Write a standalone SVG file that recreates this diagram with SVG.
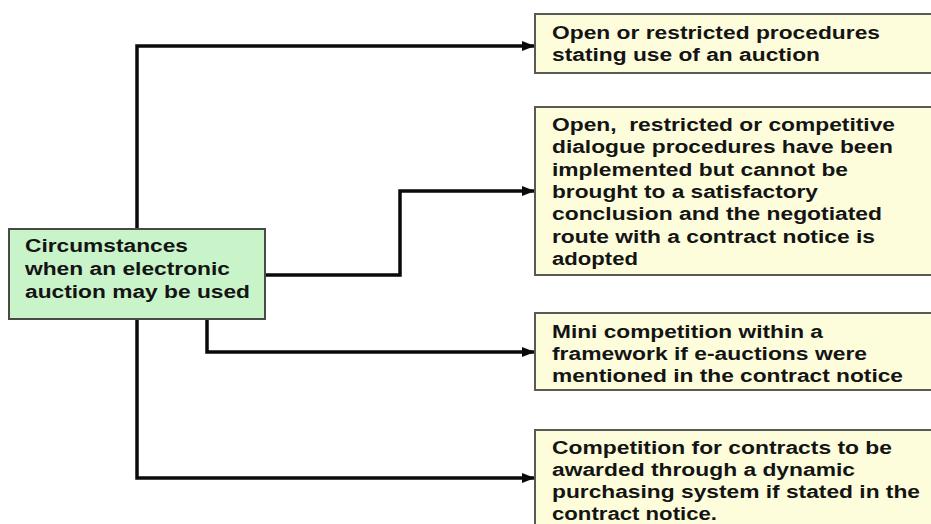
<svg xmlns="http://www.w3.org/2000/svg" width="931" height="524" viewBox="0 0 931 524">
<style>
.box{fill:#fdfddc;stroke:#5a5a52;stroke-width:2}
.src{fill:#c9f3c9;stroke:#4a4a44;stroke-width:2}
.shadow{fill:#b8b8b0;opacity:0.5}
.t{font-family:"Liberation Sans",Arial,sans-serif;font-weight:bold;font-size:18px;fill:#141414}
.conn{fill:none;stroke:#0a0a0a;stroke-width:3.5;stroke-linejoin:miter}
</style>
<defs>
<marker id="arr" markerUnits="userSpaceOnUse" markerWidth="14" markerHeight="12" refX="13" refY="6" orient="auto">
<path d="M0,1 L13,6 L0,11 Z" fill="#0a0a0a"/>
</marker>
</defs>
<rect width="931" height="524" fill="#ffffff"/>
<g id="connectors">
<path class="conn" d="M137,229 V46 H535" marker-end="url(#arr)"/>
<path class="conn" d="M265,275 H400 V191 H535" marker-end="url(#arr)"/>
<path class="conn" d="M207,319 V352 H535" marker-end="url(#arr)"/>
<path class="conn" d="M137,319 V478 H535" marker-end="url(#arr)"/>
</g>
<g id="source">
<rect class="src" x="9" y="229" width="256" height="90"/>
<text class="t" x="25" y="252" textLength="163" lengthAdjust="spacingAndGlyphs">Circumstances</text>
<text class="t" x="25" y="275" textLength="205" lengthAdjust="spacingAndGlyphs">when an electronic</text>
<text class="t" x="25" y="298" textLength="225" lengthAdjust="spacingAndGlyphs">auction may be used</text>
</g>
<g id="box1">
<rect class="box" x="535" y="14" width="410" height="59"/>
<text class="t" x="552" y="39" textLength="328" lengthAdjust="spacingAndGlyphs">Open or restricted procedures</text>
<text class="t" x="552" y="61" textLength="268" lengthAdjust="spacingAndGlyphs">stating use of an auction</text>
</g>
<g id="box2">
<rect class="box" x="535" y="107" width="410" height="168"/>
<text class="t" x="552" y="131" textLength="343" lengthAdjust="spacingAndGlyphs" xml:space="preserve">Open,  restricted or competitive</text>
<text class="t" x="552" y="153" textLength="341" lengthAdjust="spacingAndGlyphs">dialogue procedures have been</text>
<text class="t" x="552" y="176" textLength="296" lengthAdjust="spacingAndGlyphs">implemented but cannot be</text>
<text class="t" x="552" y="198" textLength="266" lengthAdjust="spacingAndGlyphs">brought to a satisfactory</text>
<text class="t" x="552" y="220" textLength="330" lengthAdjust="spacingAndGlyphs">conclusion and the negotiated</text>
<text class="t" x="552" y="243" textLength="323" lengthAdjust="spacingAndGlyphs">route with a contract notice is</text>
<text class="t" x="552" y="265" textLength="86" lengthAdjust="spacingAndGlyphs">adopted</text>
</g>
<g id="box3">
<rect class="box" x="535" y="313" width="410" height="77"/>
<text class="t" x="552" y="338" textLength="271" lengthAdjust="spacingAndGlyphs">Mini competition within a</text>
<text class="t" x="552" y="360" textLength="315" lengthAdjust="spacingAndGlyphs">framework if e-auctions were</text>
<text class="t" x="552" y="382" textLength="351" lengthAdjust="spacingAndGlyphs">mentioned in the contract notice</text>
</g>
<g id="box4">
<rect class="box" x="535" y="430" width="410" height="110"/>
<text class="t" x="552" y="454" textLength="340" lengthAdjust="spacingAndGlyphs">Competition for contracts to be</text>
<text class="t" x="552" y="476" textLength="303" lengthAdjust="spacingAndGlyphs">awarded through a dynamic</text>
<text class="t" x="552" y="498" textLength="368" lengthAdjust="spacingAndGlyphs">purchasing system if stated in the</text>
<text class="t" x="552" y="520" textLength="165" lengthAdjust="spacingAndGlyphs">contract notice.</text>
</g>
</svg>
